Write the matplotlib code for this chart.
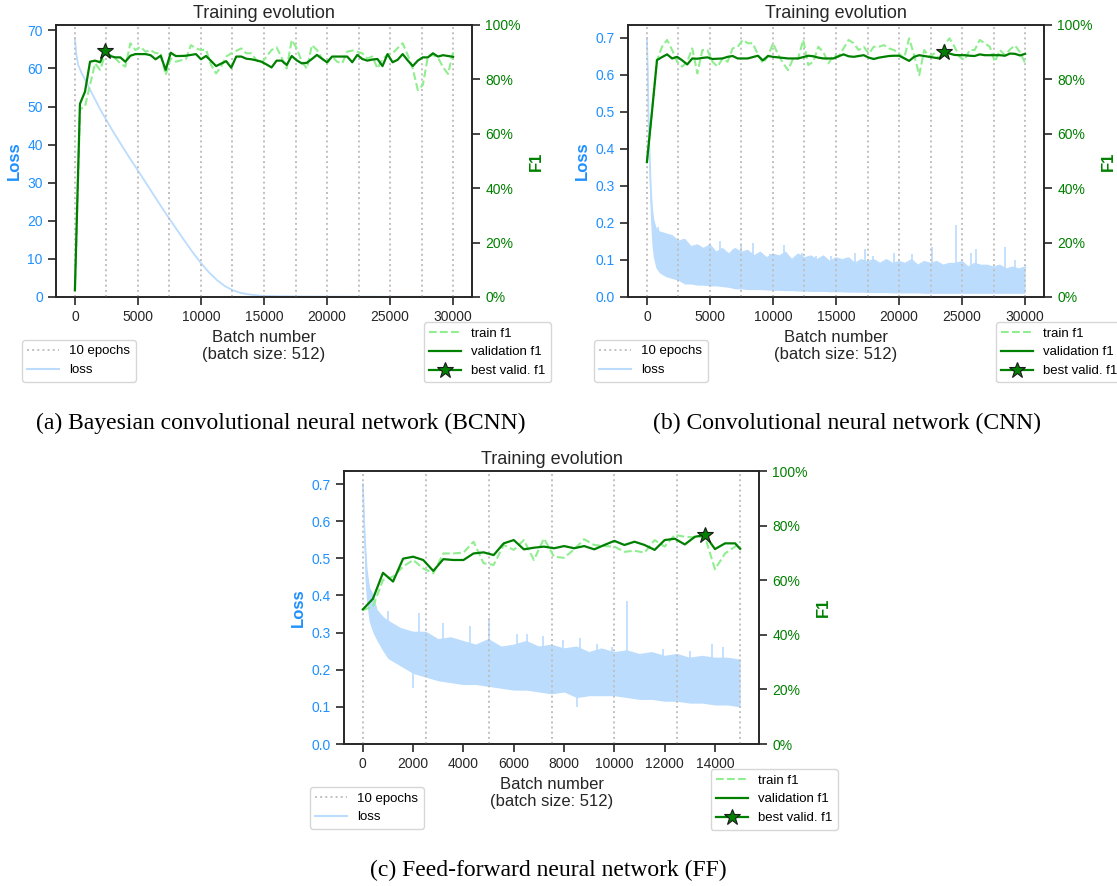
import numpy as np
import matplotlib
matplotlib.use('Agg')
import matplotlib.pyplot as plt
from matplotlib.lines import Line2D
from matplotlib.ticker import PercentFormatter

plt.rcParams['font.family'] = ['Liberation Sans', 'DejaVu Sans']

# ---- (a) BCNN ----
A_LOSS_X = [0, 100, 250, 500, 1000, 1500, 2000, 2500, 3125, 3750, 4375, 5000, 5625, 6250,
            6875, 7500, 8125, 8750, 9375, 10000, 10625, 11250, 11875, 12500, 13125, 13750,
            14375, 15000, 16250, 17500, 20000, 22500, 25000, 27500, 30000]
A_LOSS = [68.0, 64.0, 61.0, 59.0, 55.8, 52.5, 49.3, 46.4, 42.9, 39.6, 36.3, 33.2, 30.0, 26.8,
          23.6, 20.5, 17.5, 14.5, 11.6, 8.9, 6.5, 4.5, 2.9, 1.8, 1.1, 0.7,
          0.45, 0.3, 0.2, 0.15, 0.1, 0.08, 0.06, 0.05, 0.04]
A_VAL = [2.5, 71.0, 75.5, 86.5, 86.9, 86.3, 90.6, 88.6, 88.1, 88.1,
         86.5, 88.7, 89.3, 89.3, 89.3, 88.9, 87.4, 88.7, 83.5, 89.8,
         88.6, 88.6, 88.7, 89.0, 89.3, 87.4, 88.6, 86.8, 84.9, 85.8,
         86.7, 84.3, 88.4, 88.4, 87.6, 87.4, 87.0, 86.5, 85.5, 84.4,
         86.9, 86.9, 85.3, 88.6, 87.0, 85.9, 86.1, 87.5, 89.0, 87.6,
         86.3, 88.4, 88.4, 88.4, 88.4, 86.3, 89.0, 87.5, 86.9, 87.3,
         87.5, 84.9, 89.3, 86.3, 87.2, 89.3, 87.0, 84.9, 86.9, 88.1,
         88.1, 89.6, 88.4, 88.9, 88.6, 88.3]
A_TRAIN = [2.5, 69.0, 70.0, 78.0, 85.9, 83.5, 89.0, 89.0, 87.7, 85.9,
           84.7, 93.3, 90.8, 92.0, 90.2, 90.8, 89.6, 89.8, 81.6, 87.7,
           86.5, 87.0, 87.4, 92.6, 91.4, 90.8, 91.0, 85.3, 82.2, 84.7,
           88.4, 89.6, 90.5, 91.4, 89.6, 89.6, 87.0, 85.9, 88.4, 90.8,
           91.8, 88.0, 84.0, 94.5, 91.4, 86.5, 84.0, 92.6, 90.8, 87.7,
           85.9, 88.4, 86.5, 85.9, 90.2, 90.6, 90.2, 89.6, 87.7, 88.4,
           84.0, 87.5, 89.0, 89.6, 91.5, 93.3, 89.0, 84.0, 76.1, 77.9,
           88.4, 89.0, 88.0, 84.5, 82.0, 90.0]
AB_F1_X = list(range(0, 30001, 400))

# ---- (b) CNN ----
B_LOSS_X = [0, 60, 120, 200, 300, 400, 500, 700, 1000, 1500] + list(range(2000, 30001, 500))
B_LOSS_HI = [0.70, 0.62, 0.50, 0.40, 0.30, 0.24, 0.21, 0.185, 0.175, 0.17,
             0.165, 0.15, 0.155, 0.135, 0.14, 0.13, 0.14, 0.12, 0.13, 0.115,
             0.13, 0.12, 0.125, 0.11, 0.12, 0.105, 0.115, 0.11, 0.12, 0.10,
             0.115, 0.105, 0.11, 0.10, 0.11, 0.095, 0.105, 0.10, 0.105, 0.09,
             0.10, 0.095, 0.10, 0.09, 0.10, 0.09, 0.095, 0.09, 0.10, 0.085,
             0.095, 0.09, 0.095, 0.085, 0.09, 0.09, 0.095, 0.08, 0.09, 0.085,
             0.085, 0.08, 0.085, 0.075, 0.08, 0.075, 0.08]
B_LOSS_LO = [0.70, 0.55, 0.42, 0.30, 0.20, 0.14, 0.11, 0.08, 0.065, 0.055,
             0.05, 0.045, 0.035, 0.035, 0.032, 0.032, 0.03, 0.03, 0.028, 0.026,
             0.022, 0.022, 0.02, 0.02, 0.02, 0.019, 0.018, 0.018, 0.017, 0.017,
             0.016, 0.016, 0.015, 0.015, 0.015, 0.014, 0.014, 0.014, 0.013, 0.013,
             0.013, 0.012, 0.012, 0.012, 0.012, 0.011, 0.011, 0.011, 0.011, 0.011,
             0.010, 0.010, 0.010, 0.010, 0.010, 0.010, 0.010, 0.010, 0.010, 0.010,
             0.010, 0.010, 0.010, 0.010, 0.010, 0.010, 0.010]
B_SPIKE_X = [900, 1600, 2200, 3000, 5000, 5800, 6800, 7500, 8400, 9800, 10900, 12300,
             13400, 14600, 16500, 17300, 17900, 19600, 21000, 22600, 24500, 25700,
             26100, 28400, 29200]
B_SPIKE_Y = [0.19, 0.17, 0.16, 0.15, 0.14, 0.15, 0.13, 0.14, 0.145, 0.115, 0.14, 0.12,
             0.11, 0.11, 0.12, 0.13, 0.11, 0.12, 0.115, 0.135, 0.195, 0.12,
             0.13, 0.135, 0.10]
B_VAL = [49.6, 68.0, 87.1, 88.2, 89.2, 87.7, 88.3, 87.0, 85.5, 87.7,
         87.6, 87.9, 88.1, 87.5, 87.6, 87.7, 88.3, 88.6, 87.7, 87.7,
         87.7, 88.2, 88.7, 87.0, 88.6, 88.3, 88.1, 87.9, 87.7, 87.7,
         87.7, 88.2, 88.7, 88.5, 88.0, 87.7, 87.7, 87.7, 88.5, 89.2,
         88.5, 88.3, 88.6, 88.9, 88.0, 87.5, 88.0, 88.3, 88.6, 88.7,
         88.7, 87.8, 86.8, 88.3, 88.9, 88.6, 88.3, 88.0, 87.7, 90.0,
         89.5, 89.0, 88.9, 88.9, 88.7, 88.6, 89.2, 88.9, 88.9, 88.9,
         88.9, 88.7, 89.5, 89.4, 88.8, 89.4]
B_TRAIN = [49.6, 68.0, 87.1, 92.0, 94.5, 90.8, 86.5, 84.7, 86.5, 91.4,
           82.2, 90.8, 90.8, 86.5, 84.7, 87.7, 86.5, 91.4, 92.0, 94.5,
           93.3, 93.3, 89.2, 86.0, 88.5, 93.3, 89.2, 86.0, 83.4, 87.7,
           87.7, 94.5, 85.3, 86.5, 92.0, 90.0, 85.9, 88.9, 88.3, 91.4,
           94.5, 93.3, 90.8, 92.0, 89.5, 92.0, 92.0, 92.6, 91.4, 90.8,
           89.5, 87.7, 95.1, 88.9, 81.6, 90.8, 88.3, 89.5, 87.7, 92.6,
           95.1, 92.0, 88.3, 87.1, 90.8, 90.8, 94.5, 93.3, 92.0, 86.5,
           90.8, 88.9, 91.0, 92.5, 90.0, 86.0]

# ---- (c) FF ----
C_LOSS_X = [0, 40, 80, 150, 250, 400, 550, 800] + list(range(1000, 15001, 500))
C_LOSS_HI = [0.70, 0.62, 0.55, 0.47, 0.42, 0.40, 0.36, 0.34,
             0.33, 0.31, 0.30, 0.30, 0.28, 0.285, 0.275, 0.265, 0.28, 0.26,
             0.265, 0.275, 0.26, 0.265, 0.255, 0.26, 0.245, 0.255, 0.245, 0.25,
             0.24, 0.245, 0.235, 0.24, 0.23, 0.235, 0.23, 0.23, 0.225]
C_LOSS_LO = [0.70, 0.55, 0.45, 0.38, 0.33, 0.30, 0.28, 0.25,
             0.23, 0.21, 0.19, 0.18, 0.17, 0.165, 0.16, 0.16, 0.155, 0.15,
             0.145, 0.145, 0.14, 0.135, 0.14, 0.125, 0.13, 0.13, 0.13, 0.125,
             0.12, 0.12, 0.115, 0.115, 0.11, 0.11, 0.105, 0.105, 0.10]
C_SPIKE_X = [980, 2240, 3195, 4256, 5012, 6113, 6537, 7173, 7968, 8631, 9294, 9890,
             10514, 11946, 13007, 13870, 14333]
C_SPIKE_Y = [0.357, 0.354, 0.326, 0.319, 0.339, 0.295, 0.297, 0.29, 0.279, 0.286, 0.27,
             0.261, 0.385, 0.255, 0.25, 0.27, 0.261]
C_DIP_X = [2000, 8500]
C_DIP_Y = [0.15, 0.10]
C_F1_X = list(range(0, 14801, 400)) + [15000]
C_VAL = [49.3, 53.2, 62.7, 59.5, 67.9, 68.6, 67.4, 63.4, 67.7, 67.4,
         67.4, 69.8, 70.2, 69.2, 73.5, 74.7, 71.3, 71.9, 72.3, 71.7,
         72.5, 71.7, 72.5, 71.3, 72.9, 74.4, 72.9, 74.1, 72.9, 71.1,
         74.7, 75.2, 73.1, 75.9, 76.6, 71.4, 73.5, 73.5, 71.5]
C_TRAIN = [49.1, 50.3, 60.1, 61.3, 65.0, 67.4, 64.3, 62.5, 69.8, 69.8,
           70.1, 74.1, 66.2, 65.6, 72.9, 71.1, 74.7, 67.4, 75.3, 68.6,
           68.2, 71.3, 75.0, 72.9, 72.5, 72.3, 70.4, 70.8, 70.1, 74.7,
           72.3, 76.6, 75.9, 75.7, 75.9, 64.0, 69.8, 72.3, 74.1]

LOSS_C = '#bbdcfd'
LOSS_TXT = '#1e90ff'
EPOCH_C = 'silver'
SPINE_C = '#262626'
W, H = 1117, 886


def px_rect(left, right, top, bottom):
    """像素坐标 -> figure 坐标"""
    return [left / W, 1 - bottom / H, (right - left) / W, (bottom - top) / H]


def draw_panel(fig, rect, xmax, loss_x, loss_hi, f1_x, train, val,
               loss_lo=None, spikes=None, dips=None):
    ax = fig.add_axes(rect)
    ax2 = ax.twinx()

    # 损失曲线
    ax.plot(loss_x, loss_hi, color=LOSS_C, lw=1.3, zorder=2)
    if loss_lo is not None:
        ax.fill_between(loss_x, loss_lo, loss_hi, color=LOSS_C, lw=0, zorder=2)
    if spikes is not None:
        base = np.interp(spikes[0], loss_x, loss_hi) * 0.9
        ax.vlines(spikes[0], base, spikes[1], color=LOSS_C, lw=1.2, zorder=2)
    if dips is not None:
        top = np.interp(dips[0], loss_x, loss_lo) * 1.1
        ax.vlines(dips[0], dips[1], top, color=LOSS_C, lw=1.2, zorder=2)

    # 每10个epoch的竖线
    for e in range(0, xmax + 1, 2500):
        ax.axvline(e, color=EPOCH_C, ls=':', lw=1.4, zorder=3)

    ax.set_xlim(-0.05 * xmax, 1.05 * xmax)
    ax.set_ylim(0, max(loss_hi) * 1.05)

    # F1
    ax2.plot(f1_x, train, '--', color='lightgreen', lw=1.5)
    ax2.plot(f1_x, val, color='green', lw=1.6)
    best = int(np.argmax(val))
    ax2.plot(f1_x[best], val[best], marker='*', ms=12, mfc='green',
             mec='#1a1a1a', mew=0.8, ls='none')
    ax2.set_ylim(0, 100)
    ax2.yaxis.set_major_formatter(PercentFormatter(100, decimals=0))

    ax.set_title('Training evolution', fontsize=13, color=SPINE_C, pad=5)
    ax.set_xlabel('Batch number\n(batch size: 512)', fontsize=12, color=SPINE_C)
    ax.set_ylabel('Loss', fontsize=12, fontweight='bold', color=LOSS_TXT, labelpad=4)
    ax2.set_ylabel('F1', fontsize=12, fontweight='bold', color='green', labelpad=6)

    ax.tick_params(axis='y', colors=LOSS_TXT, labelsize=10, length=6, width=1.2)
    ax.tick_params(axis='x', colors=SPINE_C, labelsize=10, length=6, width=1.2)
    ax2.tick_params(axis='y', colors='green', labelsize=10, length=6, width=1.2)
    for a in (ax, ax2):
        for s in a.spines.values():
            s.set_color(SPINE_C)
            s.set_linewidth(1.2)
    ax.tick_params(axis='y', color=SPINE_C)
    ax2.tick_params(axis='y', color=SPINE_C)

    # 图例
    h1 = [Line2D([], [], color=EPOCH_C, ls=':', lw=1.4),
          Line2D([], [], color=LOSS_C, lw=1.5)]
    ax.legend(h1, ['10 epochs', 'loss'], loc='upper left',
              bbox_to_anchor=(-0.082, -0.158), borderaxespad=0,
              fontsize=9.5, handlelength=2.4)
    h2 = [Line2D([], [], color='lightgreen', ls='--', lw=1.5),
          Line2D([], [], color='green', lw=1.6),
          Line2D([], [], color='green', lw=1.6, marker='*', ms=12,
                 mfc='green', mec='#1a1a1a', mew=0.8)]
    ax2.legend(h2, ['train f1', 'validation f1', 'best valid. f1'],
               loc='upper right', bbox_to_anchor=(1.19, -0.092),
               borderaxespad=0, fontsize=9.5, handlelength=2.4)
    return ax, ax2


fig = plt.figure(figsize=(W / 100, H / 100), dpi=100)

draw_panel(fig, px_rect(56, 472, 25, 297), 30000, A_LOSS_X, A_LOSS,
           AB_F1_X, A_TRAIN, A_VAL)
draw_panel(fig, px_rect(628, 1044, 25, 297), 30000, B_LOSS_X, B_LOSS_HI,
           AB_F1_X, B_TRAIN, B_VAL, loss_lo=B_LOSS_LO,
           spikes=(B_SPIKE_X, B_SPIKE_Y))
draw_panel(fig, px_rect(344, 759, 471, 744), 15000, C_LOSS_X, C_LOSS_HI,
           C_F1_X, C_TRAIN, C_VAL, loss_lo=C_LOSS_LO,
           spikes=(C_SPIKE_X, C_SPIKE_Y), dips=(C_DIP_X, C_DIP_Y))

serif = ['Liberation Serif', 'DejaVu Serif']
fig.text(281 / W, 1 - 423 / H, '(a) Bayesian convolutional neural network (BCNN)',
         family=serif, fontsize=17, ha='center', va='center')
fig.text(847 / W, 1 - 423 / H, '(b) Convolutional neural network (CNN)',
         family=serif, fontsize=17, ha='center', va='center')
fig.text(548 / W, 1 - 870 / H, '(c) Feed-forward neural network (FF)',
         family=serif, fontsize=17, ha='center', va='center')

plt.savefig('out.png', dpi=100)
plt.close()
